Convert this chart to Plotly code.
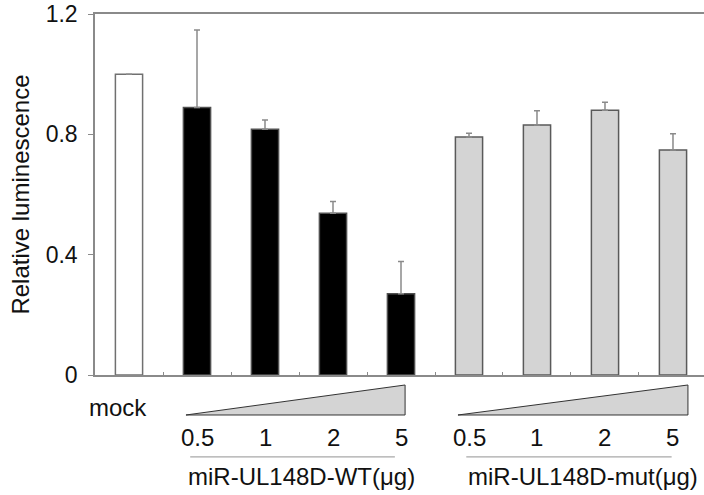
import plotly.graph_objects as go

# ---- data ----
categories = ["mock", "WT 0.5", "WT 1", "WT 2", "WT 5", "mut 0.5", "mut 1", "mut 2", "mut 5"]
values = [1.0, 0.889, 0.817, 0.538, 0.270, 0.791, 0.831, 0.880, 0.748]
errors = [0.0, 0.258, 0.031, 0.039, 0.107, 0.013, 0.047, 0.027, 0.054]
dose_labels = ["0.5", "1", "2", "5"]
group_labels = ["miR-UL148D-WT(μg)", "miR-UL148D-mut(μg)"]
y_ticks = [0, 0.4, 0.8, 1.2]
y_tick_text = ["0", "0.4", "0.8", "1.2"]

# ---- styles ----
fill_colors = ["#ffffff"] + ["#000000"] * 4 + ["#d4d4d4"] * 4
line_colors = ["#707070"] + ["#505050"] * 4 + ["#5a5a5a"] * 4
FONT = "Liberation Sans, Arial, sans-serif"
AX = "#8a8a8a"

xpos = list(range(len(categories)))

fig = go.Figure()
fig.add_trace(go.Bar(
    x=xpos, y=values, width=0.4,
    marker=dict(color=fill_colors, line=dict(color=line_colors, width=1.5)),
    error_y=dict(type="data", array=errors, arrayminus=[0] * len(errors),
                 symmetric=False, color="#8a8a8a", thickness=1.5, width=3),
    hoverinfo="skip",
))

shapes = []
annotations = []
# wedges and separators per group
groups = [(1, 4), (5, 8)]
for gi, (a, b) in enumerate(groups):
    x0 = a - 0.162
    x1 = b + 0.06 + (0.16 if gi == 1 else 0.0)
    shapes.append(dict(type="path", xref="x", yref="paper",
                       path=f"M {x0},-0.1108 L {x1},-0.0277 L {x1},-0.1108 Z",
                       fillcolor="#d4d4d4", line=dict(color="#333333", width=1)))
    shapes.append(dict(type="line", xref="x", yref="paper",
                       x0=a - 0.1 + (0.06 if gi == 1 else 0), x1=b - 0.09 + (0.07 if gi == 1 else 0),
                       y0=-0.227, y1=-0.227,
                       line=dict(color="#a8a8a8", width=1.2)))
    for k, lbl in enumerate(dose_labels):
        annotations.append(dict(x=a + k, y=-0.1745, xref="x", yref="paper",
                                text=lbl, showarrow=False, xanchor="center", yanchor="middle",
                                font=dict(family=FONT, size=24, color="#111111")))
    annotations.append(dict(x=(a + b) / 2 + 0.04 + (0.13 if gi == 1 else 0), y=-0.2825,
                            xref="x", yref="paper",
                            text=group_labels[gi], showarrow=False, xanchor="center", yanchor="middle",
                            font=dict(family=FONT, size=24, color="#111111")))

annotations.append(dict(x=-0.162, y=-0.0914, xref="x", yref="paper", text=categories[0],
                        showarrow=False, xanchor="center", yanchor="middle",
                        font=dict(family=FONT, size=24, color="#111111")))
annotations.append(dict(x=-0.123, y=0.5, xref="paper", yref="paper", text="Relative luminescence",
                        textangle=-90, showarrow=False, xanchor="center", yanchor="middle",
                        font=dict(family=FONT, size=24, color="#111111")))

fig.update_layout(
    width=704, height=495,
    margin=dict(l=95, r=0, t=14, b=120),
    paper_bgcolor="white", plot_bgcolor="white",
    showlegend=False,
    shapes=shapes, annotations=annotations,
    font=dict(family=FONT, size=23, color="#111111"),
    xaxis=dict(range=[-0.5, 8.456], tickmode="array",
               tickvals=[i + 0.5 for i in range(8)], ticktext=[""] * 8,
               ticks="inside", ticklen=3, tickcolor=AX, tickwidth=1.2,
               showline=True, linecolor=AX, linewidth=1.5, mirror=True,
               showgrid=False, zeroline=False, fixedrange=True),
    yaxis=dict(range=[0, 1.2], tickmode="array", tickvals=y_ticks, ticktext=y_tick_text,
               ticks="outside", ticklen=5, tickcolor=AX, tickwidth=1.2,
               ticklabelstandoff=6,
               showline=True, linecolor=AX, linewidth=1.5,
               showgrid=False, zeroline=False, fixedrange=True,
               tickfont=dict(family=FONT, size=23, color="#111111")),
)

fig.write_html("out.html", config={"displayModeBar": False},
               post_script="document.body.style.margin='0px';document.body.style.overflow='hidden';")
